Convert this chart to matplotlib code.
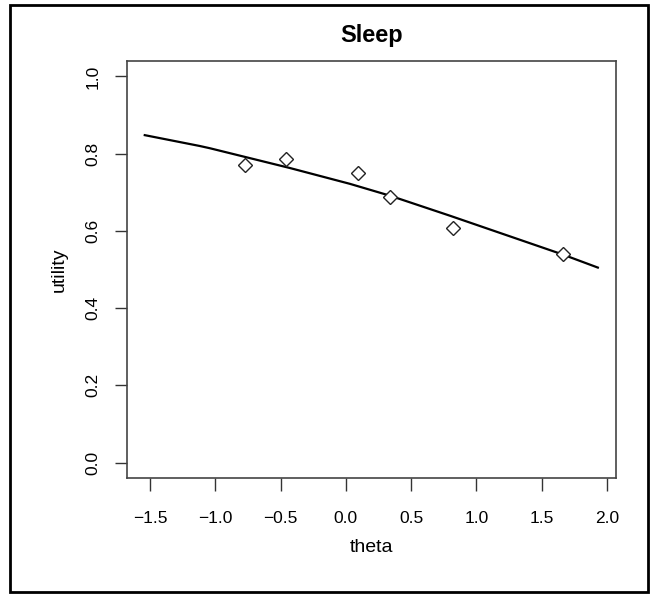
import numpy as np
import matplotlib
matplotlib.use("Agg")
import matplotlib.pyplot as plt
from matplotlib.patches import Rectangle

plt.rcParams['font.family'] = ['Liberation Sans', 'DejaVu Sans']

# observed points
theta_obs = [-0.77, -0.46, 0.09, 0.34, 0.82, 1.66]
utility_obs = [0.771, 0.786, 0.750, 0.688, 0.608, 0.541]

# fitted curve
theta_fit = [-1.54, -1.12, -1.04, -0.43, 0.03, 0.34, 0.80, 1.66, 1.93]
utility_fit = [0.848, 0.820, 0.814, 0.763, 0.722, 0.691, 0.639, 0.539, 0.505]

xticks = [-1.5, -1.0, -0.5, 0.0, 0.5, 1.0, 1.5, 2.0]
yticks = [0.0, 0.2, 0.4, 0.6, 0.8, 1.0]

fig = plt.figure(figsize=(6.57, 5.97), dpi=100)
ax = fig.add_axes([0.1933, 0.1993, 0.7443, 0.6985])

ax.plot(theta_fit, utility_fit, color='black', lw=1.6)
ax.plot(theta_obs, utility_obs, ls='none', marker='D', ms=7,
        mfc='white', mec='#222222', mew=1.0)

ax.set_xlim(-1.676, 2.069)
ax.set_ylim(-0.04, 1.04)
ax.set_xticks(xticks)
ax.set_xticklabels(['\u22121.5', '\u22121.0', '\u22120.5', '0.0', '0.5', '1.0', '1.5', '2.0'])
ax.set_yticks(yticks)
ax.set_yticklabels(['%.1f' % v for v in yticks], rotation=90, va='center')
ax.tick_params(direction='out', length=9, width=1, labelsize=12.5,
               color='#333333')
ax.tick_params(axis='x', pad=15)
ax.tick_params(axis='y', pad=10)
for s in ax.spines.values():
    s.set_color('#444444')
    s.set_linewidth(1.2)

ax.set_title('Sleep', fontsize=17, fontweight='bold', pad=14)
ax.set_xlabel('theta', fontsize=14, labelpad=9)
ax.set_ylabel('utility', fontsize=14, labelpad=13)

# outer frame
fig.patches.append(Rectangle((10 / 657, 5 / 597), 638 / 657, 587 / 597,
                             transform=fig.transFigure, fill=False,
                             edgecolor='black', lw=2))

fig.savefig('out.png', dpi=100)
